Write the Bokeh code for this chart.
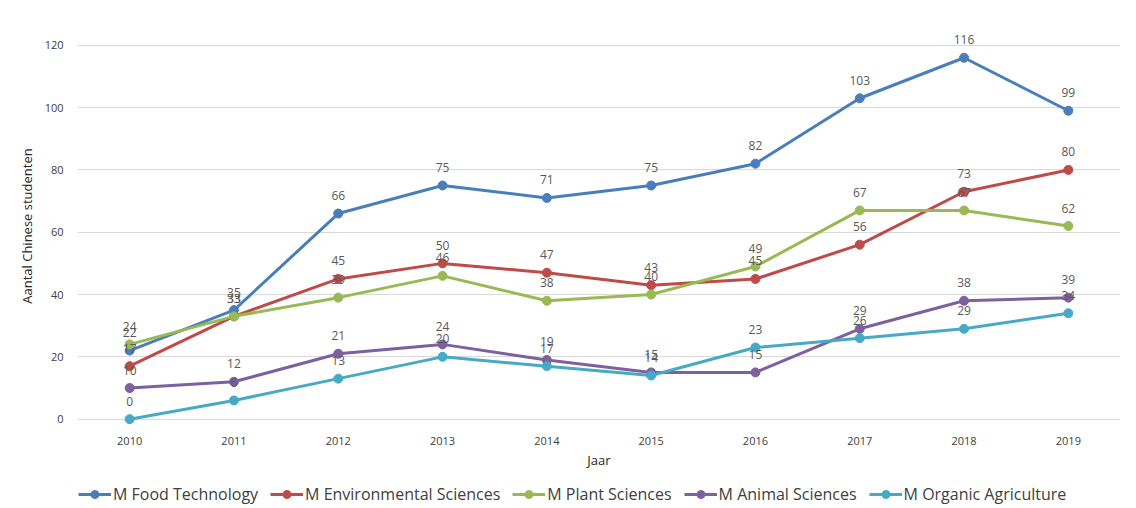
from bokeh.plotting import figure
from bokeh.layouts import column
from bokeh.models import Range1d, FixedTicker, Legend, LegendItem, ColumnDataSource
from bokeh.embed import file_html
from bokeh.resources import INLINE
from bokeh.core.properties import value

years = [2010, 2011, 2012, 2013, 2014, 2015, 2016, 2017, 2018, 2019]
food = [22, 35, 66, 75, 71, 75, 82, 103, 116, 99]
env = [17, 33, 45, 50, 47, 43, 45, 56, 73, 80]
plant = [24, 33, 39, 46, 38, 40, 49, 67, 67, 62]
animal = [10, 12, 21, 24, 19, 15, 15, 29, 38, 39]
organic = [0, 6, 13, 20, 17, 14, 23, 26, 29, 34]
names = ["M Food Technology", "M Environmental Sciences", "M Plant Sciences",
         "M Animal Sciences", "M Organic Agriculture"]
colors = ["#4a7ebb", "#be4b48", "#98b954", "#7d60a0", "#46aac5"]
series = [food, env, plant, animal, organic]
y_ticks = [0, 20, 40, 60, 80, 100, 120]

FONT = "Open Sans"

p = figure(width=1136, height=480, output_backend="svg", toolbar_location=None,
           x_range=Range1d(2009.5, 2019.5), y_range=Range1d(-3, 127),
           min_border_left=77, min_border_right=16, min_border_top=23, min_border_bottom=52)
p.outline_line_color = None
p.background_fill_color = "white"

p.xgrid.grid_line_color = None
p.ygrid.grid_line_color = "#d9d9d9"
p.ygrid.grid_line_width = 1
p.yaxis.ticker = FixedTicker(ticks=y_ticks)
p.xaxis.ticker = FixedTicker(ticks=years)

for ax in (p.xaxis, p.yaxis):
    ax.axis_line_color = None
    ax.major_tick_line_color = None
    ax.minor_tick_line_color = None
    ax.major_label_text_font = FONT
    ax.major_label_text_font_size = "11px"
    ax.major_label_text_color = "#404040"
    ax.axis_label_text_font = FONT
    ax.axis_label_text_font_style = "normal"
    ax.axis_label_text_font_size = "13px"
    ax.axis_label_text_color = "#262626"
p.yaxis.major_label_standoff = 8
p.xaxis.major_label_standoff = 2
p.xaxis.axis_label = "Jaar"
p.xaxis.axis_label_standoff = 3
p.yaxis.axis_label = "Aantal Chinese studenten"
p.yaxis.axis_label_standoff = 6

for col, ys in zip(colors, series):
    src = ColumnDataSource(dict(x=years, y=ys))
    p.line("x", "y", source=src, line_color=col, line_width=3)
    p.scatter("x", "y", source=src, size=9, fill_color=col, line_color=col)

for ys in series:
    src = ColumnDataSource(dict(x=years, y=ys, t=[str(v) for v in ys]))
    p.text("x", "y", text="t", source=src, text_font=value(FONT), text_font_size="12px",
           text_color="#595959", text_align="center", text_baseline="middle", y_offset=-18)

# legend strip below the chart (its frame is aligned with the chart's frame)
lg = figure(width=1136, height=28, output_backend="svg", toolbar_location=None,
            x_range=Range1d(0, 1), y_range=Range1d(0, 1),
            min_border_left=77, min_border_right=16, min_border_top=0, min_border_bottom=0)
lg.outline_line_color = None
lg.axis.visible = False
lg.grid.visible = False
items = []
for name, col in zip(names, colors):
    r1 = lg.line([-5, -4], [-5, -4], line_color=col, line_width=3)
    r2 = lg.scatter([-5], [-5], size=9, fill_color=col, line_color=col)
    items.append(LegendItem(label=name, renderers=[r1, r2]))
legend = Legend(items=items, orientation="horizontal", location=(1, 3),
                label_text_font=FONT, label_text_font_size="16px", label_text_color="#404040",
                glyph_width=33, glyph_height=20, label_height=20, label_standoff=2,
                spacing=12, padding=0, margin=0, border_line_color=None,
                background_fill_alpha=0)
lg.add_layout(legend, "center")

layout = column(p, lg, spacing=0)
open("out.html", "w").write(file_html(layout, INLINE))
